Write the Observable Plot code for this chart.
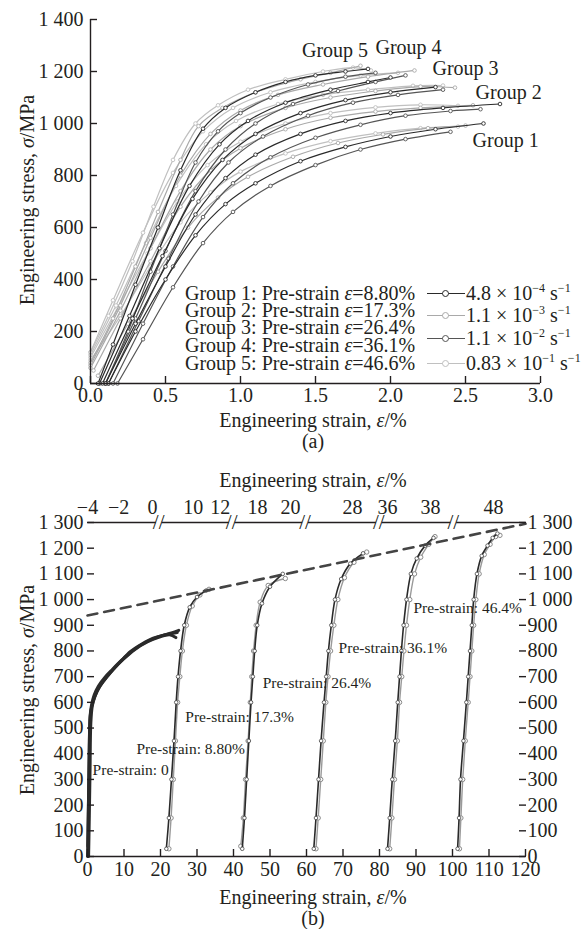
<!DOCTYPE html>
<html><head><meta charset="utf-8">
<script src="https://cdn.jsdelivr.net/npm/d3@7"></script>
<script src="https://cdn.jsdelivr.net/npm/@observablehq/plot@0.6"></script>
<style>
body{margin:0;background:#fff}
#fig{position:relative;width:587px;height:929px;font-family:"Liberation Serif",serif;color:#231f20;overflow:hidden}
.t{position:absolute;white-space:nowrap;font-size:20px;transform:translate(-50%,-50%)}
.ty{position:absolute;white-space:nowrap;font-size:20px;transform:translate(-50%,-50%) rotate(-90deg)}
.lg{position:absolute;white-space:nowrap;font-size:20px;transform:translateY(-50%);line-height:16px}
.sw{position:absolute;width:38px;height:0;border-top:1.6px solid}
.sw i{position:absolute;left:15px;top:-4px;width:5px;height:5px;border:1px solid;border-radius:50%;background:#fff}
sup{font-size:12px;vertical-align:8px;line-height:0}
</style></head>
<body>
<div id="fig">
  <div id="a" style="position:absolute;left:0;top:0"></div>
  <div id="b" style="position:absolute;left:0;top:490px"></div>
</div>
<script>
// ---------- Chart (a) data: engineering strain (%) vs stress (MPa) ----------
const xTicksA = [0, 0.5, 1, 1.5, 2, 2.5, 3];
const yTicksA = [0, 200, 400, 600, 800, 1000, 1200, 1400];
const rateLabels = ["4.8 × 10<sup>−4</sup> s<sup>−1</sup>", "1.1 × 10<sup>−3</sup> s<sup>−1</sup>", "1.1 × 10<sup>−2</sup> s<sup>−1</sup>", "0.83 × 10<sup>−1</sup> s<sup>−1</sup>"];
const rateColors = ["#2a2a2a", "#a9a9a9", "#555555", "#c0c0c0"];
const groupLegend = ["Group 1: Pre-strain <i>ε</i>=8.80%", "Group 2: Pre-strain <i>ε</i>=17.3%", "Group 3: Pre-strain <i>ε</i>=26.4%", "Group 4: Pre-strain <i>ε</i>=36.1%", "Group 5: Pre-strain <i>ε</i>=46.6%"];
const groupLabelText = ["Group 5", "Group 4", "Group 3", "Group 2", "Group 1"];
const groupLabelX = [1.41, 1.9, 2.28, 2.567, 2.547];
const groupLabelY = [1281, 1292, 1212, 1119, 935];

const g1r1 = [[0.12,0],[0.3,200],[0.5,400],[0.7,570],[0.9,690],[1.1,770],[1.4,855],[1.7,910],[2.0,950],[2.3,978],[2.62,1000]];
const g1r2 = [[0.05,30],[0.25,230],[0.45,430],[0.65,600],[0.85,715],[1.05,795],[1.35,872],[1.65,925],[1.95,958],[2.25,982],[2.5,992]];
const g1r3 = [[0.18,0],[0.35,170],[0.55,370],[0.75,540],[0.95,660],[1.2,760],[1.5,840],[1.8,900],[2.1,940],[2.4,968]];
const g1r4 = [[0.0,90],[0.2,260],[0.4,450],[0.6,620],[0.8,735],[1.0,815],[1.3,885],[1.6,932],[1.9,962],[2.2,982],[2.45,988]];
const g2r1 = [[0.1,0],[0.3,230],[0.5,450],[0.7,650],[0.9,790],[1.1,880],[1.4,960],[1.7,1010],[2.0,1040],[2.35,1060],[2.73,1075]];
const g2r2 = [[0.02,50],[0.2,250],[0.4,470],[0.6,680],[0.8,820],[1.0,905],[1.3,978],[1.6,1022],[1.9,1046],[2.2,1060],[2.55,1070]];
const g2r3 = [[0.15,0],[0.35,230],[0.55,450],[0.75,640],[0.95,770],[1.2,870],[1.5,945],[1.8,995],[2.1,1030],[2.4,1048],[2.6,1055]];
const g2r4 = [[0.0,100],[0.18,290],[0.38,500],[0.58,700],[0.78,840],[1.0,930],[1.3,1000],[1.6,1040],[1.9,1062],[2.2,1072],[2.45,1068]];
const g3r1 = [[0.08,0],[0.28,250],[0.48,490],[0.68,710],[0.88,860],[1.1,960],[1.4,1040],[1.7,1090],[2.0,1120],[2.3,1140]];
const g3r2 = [[0.0,60],[0.2,280],[0.4,520],[0.6,740],[0.8,900],[1.0,990],[1.3,1060],[1.6,1100],[1.9,1125],[2.2,1142],[2.43,1138]];
const g3r3 = [[0.12,0],[0.32,240],[0.52,480],[0.72,700],[0.92,850],[1.15,950],[1.45,1030],[1.75,1080],[2.05,1110],[2.35,1130]];
const g3r4 = [[0.0,110],[0.17,300],[0.37,540],[0.57,760],[0.77,920],[0.97,1010],[1.25,1075],[1.55,1110],[1.85,1130],[2.15,1145],[2.35,1146]];
const g4r1 = [[0.06,0],[0.26,260],[0.46,520],[0.66,760],[0.86,920],[1.05,1010],[1.3,1080],[1.6,1130],[1.85,1160],[2.0,1177]];
const g4r2 = [[0.0,70],[0.2,300],[0.4,560],[0.6,800],[0.8,960],[1.0,1050],[1.25,1110],[1.55,1150],[1.85,1180],[2.16,1204]];
const g4r3 = [[0.1,0],[0.3,250],[0.5,510],[0.7,740],[0.9,900],[1.1,1000],[1.35,1075],[1.65,1125],[1.9,1160],[2.1,1185]];
const g4r4 = [[0.0,120],[0.15,320],[0.35,580],[0.55,810],[0.75,970],[0.95,1060],[1.2,1120],[1.5,1160],[1.8,1185],[2.05,1195]];
const g5r1 = [[0.05,0],[0.15,150],[0.3,380],[0.45,600],[0.6,820],[0.75,980],[0.9,1060],[1.1,1120],[1.3,1160],[1.5,1185],[1.7,1200],[1.85,1210]];
const g5r2 = [[0.0,80],[0.15,250],[0.3,450],[0.45,660],[0.6,860],[0.72,990],[0.88,1060],[1.1,1120],[1.4,1170],[1.6,1195],[1.8,1222]];
const g5r3 = [[0.1,0],[0.25,200],[0.4,430],[0.55,650],[0.7,850],[0.85,970],[1.0,1040],[1.2,1100],[1.45,1150],[1.7,1180],[1.9,1195]];
const g5r4 = [[0.0,120],[0.12,260],[0.28,470],[0.42,680],[0.55,860],[0.7,1000],[0.85,1070],[1.05,1130],[1.3,1170],[1.55,1200],[1.75,1215],[1.87,1204]];

// ---------- Chart (b) data ----------
const xTicksB = [0,10,20,30,40,50,60,70,80,90,100,110,120];
const yTicksB = [0,100,200,300,400,500,600,700,800,900,1000,1100,1200,1300];
const topTickLabels = ["−4","−2","0","10","12","18","20","28","36","38","48"];
const topTickPos = [0, 8.5, 17.8, 29, 36.4, 46.6, 55.6, 72.6, 82.2, 94, 111.2];
const breakPos = [19.5, 39.5, 59.6, 79.8, 100.2];
const segStart = [0, 20.3, 40.3, 60.4, 80.6];
const segEnd = [18.7, 38.7, 58.8, 79.0, 99.4];
const lastSegStart = [101.0];
const lastSegEnd = [120];
const dashX = [0, 120];
const dashY = [938, 1295];
const preLabels = ["Pre-strain: 0", "Pre-strain: 8.80%", "Pre-strain: 17.3%", "Pre-strain: 26.4%", "Pre-strain: 36.1%", "Pre-strain: 46.4%"];
const preLabelX = [1.4, 13.4, 26.8, 48, 68.8, 89.3];
const preLabelY = [335, 420, 541, 677, 813, 969];

const p0a = [[0,0],[0.2,150],[0.4,330],[0.6,500],[0.9,565],[1.5,600],[2.7,646],[4.5,685],[6.3,716],[9,758],[11.8,798],[15,828],[18,850],[21,862],[24.6,872]];
const p0b = [[0.3,0],[0.5,160],[0.7,340],[0.9,515],[1.3,585],[2.0,622],[3.3,660],[5.2,697],[7.3,732],[10,770],[13,806],[16.5,836],[19.5,853],[22.5,863],[24.2,852]];
const p0c = [[0.1,40],[0.3,250],[0.5,430],[0.7,545],[1.1,590],[1.8,628],[3,664],[4.8,698],[6.8,728],[9.5,766],[12.5,803],[16,834],[19.5,856],[23,870],[25,880]];
const p8a = [[21.6,30],[22.3,150],[23,300],[23.7,450],[24.3,600],[24.8,700],[25.5,800],[26.5,900],[28,970],[30,1010],[32.5,1035]];
const p8b = [[22.3,30],[22.9,150],[23.5,300],[24.1,450],[24.7,600],[25.3,700],[26.0,800],[27.1,900],[28.7,975],[30.8,1018],[33.3,1040]];
const p17a = [[42.4,30],[43,150],[43.6,300],[44.2,450],[44.8,600],[45.3,700],[45.8,800],[46.5,900],[47.8,985],[50,1050],[53.5,1100]];
const p17b = [[42.0,40],[42.7,150],[43.3,300],[44.0,450],[44.6,600],[45.0,700],[45.5,800],[46.2,900],[47.3,990],[49.5,1055],[54.2,1082]];
const p26a = [[62,30],[62.6,150],[63.3,300],[64,450],[64.8,600],[65.4,700],[66,800],[66.8,900],[67.8,1000],[69.5,1080],[72,1140],[75.5,1180]];
const p26b = [[62.6,30],[63.2,150],[63.9,300],[64.6,450],[65.3,600],[65.9,700],[66.6,800],[67.5,900],[68.6,1000],[70.4,1085],[73,1145],[76.5,1185]];
const p36a = [[82.2,30],[82.8,150],[83.5,300],[84.3,450],[85,600],[85.5,700],[86,800],[86.6,900],[87.4,1000],[88.6,1100],[90.2,1160],[92.5,1210],[94.8,1240]];
const p36b = [[82.8,30],[83.4,150],[84.1,300],[84.9,450],[85.5,600],[86.1,700],[86.7,800],[87.4,900],[88.3,1000],[89.6,1100],[91.3,1165],[93.5,1215],[95.2,1245]];
const p46a = [[101.4,30],[101.8,150],[102.2,300],[103,450],[103.8,600],[104.3,700],[104.8,800],[105.3,900],[105.8,1000],[106.7,1100],[108,1170],[109.6,1210],[111,1240],[112.3,1257]];
const p46b = [[101.9,30],[102.3,150],[102.8,300],[103.5,450],[104.3,600],[104.8,700],[105.3,800],[105.8,900],[106.4,1000],[107.3,1100],[108.7,1175],[110.3,1215],[111.8,1245],[113,1250]];

// ---------- helpers ----------
const ink = "#231f20";
const fmtSp = d => d3.format(",")(d).replace(/,/g, " ");
const toRows = (list) => list.flatMap((pts, k) => pts.map(([x, y]) => ({x, y, k})));
const rateSets = [
  [g1r1, g2r1, g3r1, g4r1, g5r1],
  [g1r2, g2r2, g3r2, g4r2, g5r2],
  [g1r3, g2r3, g3r3, g4r3, g5r3],
  [g1r4, g2r4, g3r4, g4r4, g5r4]
];
const drawOrder = [3, 1, 2, 0];
const curveMarks = drawOrder.flatMap(r => {
  const data = toRows(rateSets[r]);
  return [
    Plot.line(data, {x: "x", y: "y", z: "k", stroke: rateColors[r], strokeWidth: 1.2, curve: "catmull-rom"}),
    Plot.dot(data, {x: "x", y: "y", r: 1.8, fill: "#fff", stroke: rateColors[r], strokeWidth: 0.9})
  ];
});

const chartA = Plot.plot({
  width: 587, height: 410,
  marginLeft: 90, marginRight: 47, marginTop: 19, marginBottom: 27,
  style: {fontFamily: "Liberation Serif, serif", fontSize: "20px", color: ink, background: "transparent", overflow: "visible"},
  x: {domain: [0, 3]},
  y: {domain: [0, 1400]},
  marks: [
    ...curveMarks,
    Plot.ruleX([0], {stroke: ink, strokeWidth: 1.4}),
    Plot.ruleY([0], {stroke: ink, strokeWidth: 1.4}),
    Plot.axisX({ticks: xTicksA, tickFormat: d3.format(".1f"), tickSize: -7, tickPadding: 11, label: null, strokeWidth: 1.4}),
    Plot.axisY({ticks: yTicksA, tickFormat: fmtSp, tickSize: -7, tickPadding: 14, label: null, strokeWidth: 1.4}),
    Plot.text(groupLabelText, {x: (d, i) => groupLabelX[i], y: (d, i) => groupLabelY[i], text: d => d, textAnchor: "start", fontSize: 20, fill: ink})
  ]
});
document.getElementById("a").append(chartA);

const bDark = [p0a, p0b, p0c, p8a, p17a, p26a, p36a, p46a];
const bLight = [p8b, p17b, p26b, p36b, p46b];
const darkRows = toRows(bDark);
const lightRows = toRows(bLight);
const chartB = Plot.plot({
  width: 587, height: 400,
  marginLeft: 87, marginRight: 62, marginTop: 32, marginBottom: 34,
  style: {fontFamily: "Liberation Serif, serif", fontSize: "20px", color: ink, background: "transparent", overflow: "visible"},
  x: {domain: [0, 120]},
  y: {domain: [0, 1300]},
  marks: [
    Plot.line(lightRows, {x: "x", y: "y", z: "k", stroke: "#9a9a9a", strokeWidth: 1.4, curve: "catmull-rom"}),
    Plot.dot(lightRows, {x: "x", y: "y", r: 2.2, fill: "#fff", stroke: "#8a8a8a", strokeWidth: 1}),
    Plot.line(darkRows, {x: "x", y: "y", z: "k", stroke: "#2a2a2a", strokeWidth: (d) => d.k < 3 ? 3 : 1.6, curve: "catmull-rom"}),
    Plot.dot(darkRows.filter(d => d.k >= 3), {x: "x", y: "y", r: 1.8, fill: "#fff", stroke: "#444", strokeWidth: 0.8}),
    Plot.line(dashX.map((x, i) => ({x, y: dashY[i]})), {x: "x", y: "y", stroke: "#444", strokeWidth: 2.6, strokeDasharray: "10,7"}),
    Plot.ruleY([0], {stroke: ink, strokeWidth: 1.4}),
    Plot.link(segStart.concat(lastSegStart), {x1: d => d, x2: (d, i) => segEnd.concat(lastSegEnd)[i], y1: () => 1300, y2: () => 1300, stroke: ink, strokeWidth: 1.4}),
    Plot.text(breakPos, {x: d => d, y: () => 1300, text: () => "//", fontSize: 21, fill: ink, lineAnchor: "middle"}),
    Plot.text(topTickLabels, {x: (d, i) => topTickPos[i], y: () => 1300, text: d => d, dy: -15, fontSize: 20, fill: ink}),
    Plot.axisX({ticks: xTicksB, tickSize: -7, tickPadding: 12, label: null, strokeWidth: 1.4}),
    Plot.axisY({anchor: "left", ticks: yTicksB, tickFormat: fmtSp, tickSize: -7, tickPadding: 11, label: null, strokeWidth: 1.4}),
    Plot.axisY({anchor: "right", ticks: yTicksB, tickFormat: fmtSp, tickSize: -7, tickPadding: 9, label: null, strokeWidth: 1.4}),
    Plot.text(preLabels, {x: (d, i) => preLabelX[i], y: (d, i) => preLabelY[i], text: d => d, textAnchor: "start", fontSize: 15.5, fill: ink})
  ]
});
document.getElementById("b").append(chartB);

// ---------- HTML titles and legend ----------
const fig = document.getElementById("fig");
function add(cls, html, x, y) {
  const el = document.createElement("div");
  el.className = cls; el.innerHTML = html;
  el.style.left = x + "px"; el.style.top = y + "px";
  fig.append(el); return el;
}
add("ty", "Engineering stress, <i>σ</i>/MPa", 27, 200);
add("t", "Engineering strain, <i>ε</i>/%", 313, 420);
add("t", "(a)", 313, 441);
add("t", "Engineering strain, <i>ε</i>/%", 313, 480);
add("ty", "Engineering stress, <i>σ</i>/MPa", 27, 690);
add("t", "Engineering strain, <i>ε</i>/%", 313, 897);
add("t", "(b)", 313, 918);
const legY = [293, 310, 327, 345, 363];
groupLegend.forEach((s, i) => add("lg", s, 185, legY[i]));
const rateY = [293, 315, 338, 363];
rateLabels.forEach((s, i) => {
  const sw = add("sw", "<i></i>", 427, rateY[i]);
  sw.style.borderTopColor = rateColors[i];
  sw.firstChild.style.borderColor = rateColors[i];
  add("lg", s, 466, rateY[i]);
});
</script>
</body></html>
